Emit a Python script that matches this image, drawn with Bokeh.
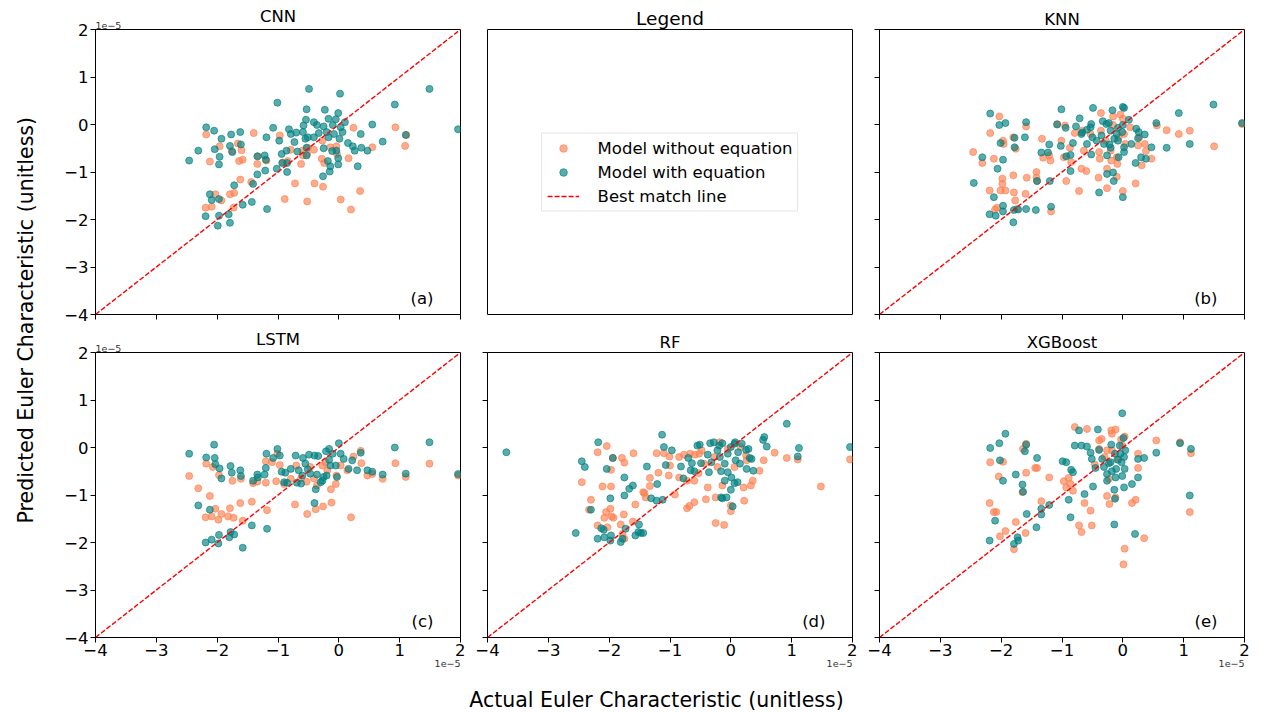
import math
from bokeh.plotting import figure
from bokeh.layouts import row, column
from bokeh.models import (Range1d, FixedTicker, CustomJSTickFormatter, Label,
                          Legend, LegendItem, Slope, Title)
from bokeh.embed import file_html
from bokeh.resources import INLINE

FONT = "DejaVu Sans"
ORANGE = "#FF7F50"
TEAL = "#008080"
TICKS = [-4, -3, -2, -1, 0, 1, 2]
SCALE_TEXT = "1e\u22125"          # values below are in units of 1e-5
LABEL_WITHOUT = "Model without equation"
LABEL_WITH = "Model with equation"
LABEL_LINE = "Best match line"
X_TITLE = "Actual Euler Characteristic (unitless)"
Y_TITLE = "Predicted Euler Characteristic (unitless)"

# ---------------- data: (actual, predicted) in units of 1e-5 ----------------
cnn_without = [(-2.18,-0.21),(-1.40,-0.18),(-0.97,-0.23),(0.24,-0.07),(0.93,-0.06),(1.11,-0.22),(1.09,-0.45),
    (-1.96,-0.46),(-1.66,-0.40),(-1.60,-0.54),(-1.76,-0.56),(-2.12,-0.78),(-1.64,-0.77),(-1.58,-0.74),
    (-1.34,-0.83),(-1.33,-0.67),(-1.19,-0.76),(-0.92,-0.80),(-0.84,-0.77),(-0.79,-0.53),(-0.62,-0.83),
    (-0.59,-0.65),(-0.52,-0.62),(-0.41,-0.53),(-0.60,-0.55),(-0.51,-0.49),(-0.28,-0.72),(-0.24,-0.81),
    (-0.04,-0.46),(0.16,-0.71),(0.55,-0.48),(-1.62,-1.16),(-1.44,-1.21),(-0.72,-1.24),(-0.40,-1.24),
    (-0.26,-1.31),(0.35,-1.40),(-1.79,-1.47),(-1.72,-1.44),(-2.03,-1.47),(-1.93,-1.60),(-2.19,-1.75),
    (-2.09,-1.73),(-1.73,-1.75),(-0.89,-1.57),(-0.52,-1.62),(0.03,-1.58),(0.20,-1.79),(-0.14,-0.48),
    (-0.27,-0.34),(-0.03,-0.62)]
cnn_with = [(-0.49,0.75),(0.02,0.65),(1.49,0.75),(-1.01,0.46),(0.92,0.42),(-0.53,0.32),(-0.23,0.31),(-0.01,0.24),
    (-0.54,0.10),(-0.41,0.05),(-0.17,0.12),(-0.05,0.11),(0.10,0.05),(0.55,0.00),(-2.18,-0.06),(-2.05,-0.13),
    (-0.82,-0.10),(-0.58,-0.02),(-0.36,-0.01),(-0.25,-0.04),(-0.10,-0.01),(0.03,-0.06),(1.96,-0.10),(-1.93,-0.30),
    (-1.77,-0.21),(-1.62,-0.16),(-1.19,-0.27),(-1.08,-0.07),(-0.98,-0.34),(-0.79,-0.20),(-0.70,-0.17),(-0.59,-0.16),
    (-0.51,-0.27),(-0.33,-0.18),(-0.20,-0.16),(-0.08,-0.20),(0.06,-0.16),(0.36,-0.20),(1.10,-0.22),(-2.31,-0.55),
    (-2.04,-0.52),(-1.79,-0.45),(-1.61,-0.42),(-1.75,-0.58),(-0.73,-0.37),(-0.55,-0.30),(-0.41,-0.27),(-0.17,-0.27),
    (0.01,-0.30),(0.15,-0.39),(0.23,-0.46),(0.26,-0.55),(0.37,-0.49),(0.47,-0.55),(0.72,-0.36),(-2.46,-0.76),
    (-1.96,-0.68),(-1.97,-0.84),(-1.34,-0.67),(-1.22,-0.65),(-1.20,-0.74),(-0.94,-0.62),(-0.86,-0.55),(-0.68,-0.57),
    (-0.53,-0.49),(-0.25,-0.50),(-0.11,-0.56),(-0.04,-0.55),(-0.93,-0.81),(-0.85,-0.81),(-0.53,-0.65),(-0.18,-0.77),
    (-0.14,-0.88),(-0.01,-0.71),(-0.01,-0.84),(0.31,-0.88),(-1.34,-1.05),(-1.21,-0.97),(-1.02,-0.93),(-0.85,-1.00),
    (-0.15,-0.99),(-0.26,-1.09),(-1.72,-1.28),(-1.41,-1.25),(-2.12,-1.47),(-2.09,-1.59),(-1.97,-1.57),(-1.58,-1.69),
    (-1.43,-1.63),(-1.18,-1.78),(-2.19,-1.93),(-1.97,-1.92),(-1.81,-1.89),(-1.99,-2.13),(-1.79,-2.07)]

knn_without = [(-2.03,0.17),(-2.18,-0.18),(-2.46,-0.58),(-2.31,-0.81),(-2.12,-0.72),(-1.97,-0.34),(-1.96,-0.41),
    (-1.80,-0.27),(-1.76,-0.51),(-1.59,-0.04),(-1.33,-0.30),(-1.31,-0.70),(-1.21,-0.65),(-1.19,-0.76),(-1.08,0.01),
    (-0.95,-0.02),(-1.01,-0.34),(-0.97,-0.69),(-0.87,-0.49),(-0.85,-0.79),(-0.79,-0.18),(-0.67,-0.13),(-0.53,-0.20),
    (-0.36,0.24),(-0.36,-0.13),(-0.38,-0.72),(-0.16,0.17),(-0.04,0.21),(0.00,0.12),(-0.16,-0.01),(-0.07,-0.28),
    (0.02,-0.20),(0.12,-0.06),(0.27,-0.27),(0.36,-0.41),(0.38,-0.56),(0.47,-0.72),(0.31,-0.86),(0.56,-0.02),
    (0.72,-0.12),(0.92,-0.20),(1.10,-0.13),(1.50,-0.46),(1.96,0.01),(-0.26,-0.93),(-0.10,-1.10),(-0.40,-1.12),
    (-0.26,-1.34),(0.00,-1.40),(0.21,-1.24),(-0.72,-1.40),(-0.68,-0.93),(-0.60,-0.98),(-0.93,-1.19),(-1.42,-1.00),
    (-1.42,-1.12),(-1.58,-1.12),(-1.41,-1.19),(-1.80,-1.07),(-1.98,-1.14),(-1.98,-1.25),(-2.01,-1.39),(-1.93,-1.39),
    (-2.19,-1.39),(-1.79,-1.43),(-1.77,-1.60),(-1.60,-1.46),(-2.07,-1.75),(-2.10,-1.79),(-1.74,-1.78),(-1.18,-1.83),
    (-0.20,-0.55),(-0.28,-0.34),(0.04,-0.41),(-0.09,-0.83),(-0.64,-0.55),(-0.39,-0.58),(0.25,-0.44),(-0.19,-0.76),
    (-0.10,-0.69)]
knn_with = [(-2.18,0.23),(-2.03,-0.01),(-1.93,0.03),(-1.59,0.05),(-1.01,0.32),(-0.71,0.13),(-0.49,0.35),(-0.52,0.01),
    (-0.33,0.07),(-0.23,0.03),(-0.17,0.30),(0.00,0.37),(0.02,0.35),(0.10,0.10),(0.55,0.03),(0.92,0.24),(1.49,0.42),
    (1.96,0.03),(-2.01,-0.39),(-1.78,-0.28),(-1.61,-0.27),(-1.78,-0.48),(-1.97,-0.74),(-2.31,-0.69),(-2.06,-0.93),
    (-2.45,-1.23),(-2.12,-1.53),(-2.19,-1.89),(-2.09,-1.92),(-1.97,-1.71),(-1.97,-1.83),(-1.79,-1.80),(-1.72,-1.79),
    (-1.59,-1.78),(-1.43,-1.80),(-1.18,-1.73),(-1.80,-2.06),(-1.34,-0.59),(-1.23,-0.59),(-1.21,-0.42),(-1.02,-0.45),
    (-0.94,-0.07),(-0.93,-0.67),(-0.86,-0.64),(-0.82,-0.39),(-0.77,-0.04),(-0.67,-0.17),(-0.59,-0.11),(-0.53,-0.06),
    (-0.50,-0.27),(-0.43,-0.34),(-0.35,-0.23),(-0.31,-0.41),(-0.20,-0.49),(-0.14,-0.30),(-0.10,-0.20),(-0.08,-0.34),
    (-0.07,-0.69),(-0.01,-0.16),(0.02,-0.48),(0.02,-0.58),(0.14,-0.41),(0.22,-0.09),(0.26,-0.16),(0.36,-0.21),
    (0.47,-0.48),(0.72,-0.49),(1.10,-0.41),(0.25,-0.29),(0.30,-0.69),(0.38,-0.72),(0.21,-0.81),(-0.86,-0.98),
    (-0.52,-0.63),(-0.26,-0.65),(-0.26,-1.04),(-0.16,-1.01),(-0.15,-1.19),(-0.39,-1.43),(0.00,-1.53),(0.00,-0.01),
    (-0.08,-0.07),(-0.27,0.01),(-0.22,-0.42),(-1.41,-1.19),(-1.20,-1.19),(-1.08,0.00),(-0.68,-0.20),(-0.59,-0.41),
    (-0.20,-0.13)]

lstm_without = [(-2.46,-0.60),(-2.31,-0.86),(-2.18,-0.34),(-2.07,-0.41),(-1.97,-0.58),(-1.75,-0.70),(-1.61,-0.66),
    (-2.12,-1.02),(-2.03,-1.29),(-1.79,-1.28),(-2.19,-1.47),(-2.09,-1.45),(-1.98,-1.52),(-1.93,-1.40),(-1.82,-1.45),
    (-1.73,-1.48),(-1.58,-1.54),(-1.62,-1.17),(-1.43,-1.14),(-1.18,-1.32),(-1.41,-0.75),(-1.34,-0.72),(-1.20,-0.74),
    (-1.20,-0.29),(-1.10,-0.31),(-1.01,-0.13),(-0.97,-0.37),(-1.03,-0.71),(-0.90,-0.77),(-0.79,-0.66),(-0.70,-0.38),
    (-0.62,-0.65),(-0.53,-0.72),(-0.41,-0.65),(-0.36,-0.80),(-0.27,-0.38),(-0.19,-0.48),(-0.13,-0.88),(-0.05,-0.77),
    (-0.04,-0.59),(0.03,-0.38),(0.14,-0.48),(0.24,-0.19),(0.36,-0.07),(0.37,-0.33),(0.47,-0.59),(0.55,-0.56),
    (0.72,-0.66),(0.93,-0.33),(1.10,-0.62),(1.49,-0.34),(1.96,-0.59),(-0.72,-1.20),(-0.52,-1.40),(-0.38,-1.30),
    (-0.26,-1.24),(-0.12,-1.16),(0.20,-1.47),(-0.47,-0.41),(-0.22,-0.31)]
lstm_with = [(-2.46,-0.13),(-2.05,0.06),(-2.18,-0.21),(-2.04,-0.22),(-2.03,-0.35),(-1.96,-0.44),(-1.93,-0.65),
    (-1.78,-0.39),(-1.76,-0.53),(-1.62,-0.48),(-1.61,-0.60),(-1.41,-0.70),(-1.34,-0.57),(-1.33,-0.63),(-1.22,-0.57),
    (-1.19,-0.13),(-1.20,-0.43),(-1.08,-0.22),(-1.01,-0.03),(-0.97,-0.17),(-0.94,-0.51),(-0.88,-0.53),(-0.85,-0.74),
    (-0.79,-0.45),(-0.71,-0.17),(-0.66,-0.48),(-0.62,-0.76),(-0.59,-0.22),(-0.55,-0.34),(-0.51,-0.46),(-0.49,-0.15),
    (-0.40,-0.17),(-0.34,-0.18),(-0.36,-0.57),(-0.30,-0.73),(-0.25,-0.62),(-0.21,-0.08),(-0.16,-0.03),(-0.16,-0.26),
    (-0.10,-0.13),(0.00,0.09),(0.03,-0.13),(-0.14,-0.38),(-0.05,-0.38),(-0.03,-0.62),(0.08,-0.24),(0.16,-0.45),
    (0.22,-0.27),(0.30,-0.48),(0.36,-0.11),(0.47,-0.48),(0.55,-0.51),(0.72,-0.57),(0.92,0.00),(1.10,-0.55),
    (1.49,0.11),(1.96,-0.56),(-2.31,-1.22),(-2.12,-1.31),(-0.38,-0.88),(-0.40,-1.17),(-2.19,-2.00),(-2.09,-1.94),
    (-1.97,-1.84),(-1.98,-2.02),(-1.80,-1.89),(-1.78,-1.78),(-1.72,-1.83),(-1.58,-2.11),(-1.43,-1.64),(-1.18,-1.71),
    (-0.90,-0.73),(-0.69,-0.74),(-0.60,-0.59),(-0.47,-0.55),(-0.20,-0.59),(-0.27,-0.70)]

rf_without = [(-2.19,-0.10),(-2.04,0.03),(-1.97,-0.47),(-1.94,-0.22),(-1.79,-0.22),(-1.75,-0.32),(-1.60,-0.12),
    (-2.45,-0.73),(-2.11,-0.82),(-1.97,-0.82),(-2.30,-1.10),(-2.33,-1.31),(-2.05,-1.36),(-2.08,-1.48),(-1.98,-1.29),
    (-1.96,-1.45),(-1.93,-1.48),(-1.76,-1.41),(-2.19,-1.64),(-2.03,-1.68),(-1.81,-1.62),(-1.61,-1.56),(-1.78,-1.82),
    (-1.75,-1.92),(-1.57,-1.20),(-1.42,-0.96),(-1.40,-1.05),(-1.44,-0.94),(-1.33,-0.64),(-1.33,-0.81),(-1.19,-0.53),
    (-1.22,-0.12),(-1.10,-0.12),(-1.01,-0.19),(-1.00,-0.38),(-1.02,-0.59),(-0.92,-0.99),(-0.85,-0.63),(-0.85,-0.20),
    (-0.77,-0.15),(-0.72,-0.70),(-0.67,-0.13),(-0.60,-0.70),(-0.59,-0.15),(-0.53,-0.54),(-0.52,-0.13),(-0.72,-1.28),
    (-0.68,-1.23),(-0.60,-1.15),(-0.41,-1.09),(-0.38,-0.84),(-0.25,-1.05),(-0.25,-1.59),(-0.11,-1.63),(-0.14,-0.80),
    (0.00,-1.22),(0.00,-1.34),(0.22,-1.12),(0.21,-0.84),(0.36,-0.70),(0.33,-0.80),(0.47,-0.49),(0.54,-0.27),
    (0.72,-0.11),(0.92,-0.22),(1.10,-0.25),(1.48,-0.82),(1.96,-0.25),(-0.18,0.11),(-0.27,-0.20),(-0.22,-0.41),
    (-0.05,-0.03),(0.26,-0.27),(-0.48,-0.06),(-0.44,-0.34),(0.06,-0.41),(0.16,0.01),(0.25,-0.17)]
rf_with = [(-3.69,-0.10),(-2.45,-0.29),(-2.40,-0.41),(-2.18,0.11),(-2.30,-1.31),(-2.55,-1.80),(-2.19,-1.92),
    (-2.08,-1.89),(-2.13,-1.70),(-2.09,-1.73),(-1.97,-1.85),(-1.98,-1.96),(-1.81,-1.99),(-1.78,-1.92),(-1.73,-1.71),
    (-1.57,-1.85),(-1.52,-1.78),(-1.48,-1.80),(-1.44,-1.80),(-1.51,-1.62),(-1.98,-1.07),(-1.75,-1.01),(-1.75,-0.63),
    (-1.67,-0.87),(-1.61,-0.80),(-2.04,-0.45),(-1.94,-0.22),(-1.38,-0.40),(-1.31,-1.07),(-1.22,-1.12),(-1.12,-1.10),
    (-1.21,-0.77),(-1.13,0.27),(-1.10,0.01),(-0.97,-0.06),(-1.07,-0.37),(-0.82,-0.40),(-0.78,-0.65),(-0.70,-0.22),
    (-0.64,-0.33),(-0.66,-0.48),(-0.60,-0.50),(-0.55,0.04),(-0.51,0.06),(-0.49,-0.33),(-0.38,-0.15),(-0.34,0.09),
    (-0.32,-0.31),(-0.28,0.11),(-0.22,-0.06),(-0.19,0.04),(-0.18,-0.20),(-0.14,0.09),(-0.10,-0.34),(-0.05,-0.13),
    (-0.05,-0.52),(0.00,0.01),(0.01,-0.63),(0.06,0.08),(0.07,0.11),(0.08,-0.27),(0.12,-0.10),(0.15,-0.34),
    (0.18,0.08),(0.25,-0.05),(0.26,-0.45),(0.31,-0.22),(0.34,-0.24),(0.37,-0.49),(0.29,-0.03),(0.53,0.16),
    (0.55,0.22),(0.59,0.02),(0.92,0.50),(1.12,-0.01),(1.10,-0.19),(1.96,0.01),(-0.16,-1.05),(-0.14,-1.07),
    (-0.07,-1.05),(0.00,-0.89),(0.03,-1.24),(-0.10,-0.70),(0.06,-0.75),(0.11,-0.73),(-0.36,-0.52),(-0.16,-0.50)]

xgb_without = [(-0.79,0.43),(-0.59,0.39),(-0.19,0.36),(-0.12,0.38),(-0.18,0.29),(0.03,0.23),(-0.35,0.18),(-0.39,0.15),
    (-0.18,-0.06),(-0.01,0.04),(0.55,0.15),(0.94,0.11),(1.12,-0.12),(0.25,-0.13),(0.25,-0.43),(-0.03,0.17),
    (-1.64,-0.03),(-1.59,0.08),(-2.18,-0.31),(-1.97,-0.30),(-1.59,-0.53),(-1.41,-0.43),(-1.44,-0.43),(-2.04,-0.61),
    (-1.21,-0.63),(-0.97,-0.71),(-0.89,-0.64),(-0.86,-0.77),(-0.93,-0.84),(-0.82,-0.91),(-1.65,-0.94),(-1.34,-1.13),
    (-2.19,-1.17),(-2.12,-1.36),(-2.08,-1.36),(-1.76,-1.57),(-1.93,-1.76),(-2.02,-1.87),(-1.79,-2.14),(-1.60,-1.80),
    (-0.63,-1.17),(-0.53,-1.33),(-0.72,-1.64),(-0.68,-1.78),(-0.51,-1.64),(-0.26,-1.02),(-0.22,-1.19),(-0.12,-1.05),
    (0.15,-1.17),(0.21,-1.10),(0.35,-1.91),(0.03,-2.13),(0.01,-2.46),(1.10,-1.36),(-0.46,-0.36),(-0.39,-0.03),
    (-0.26,-0.06),(-0.09,-0.24),(-0.23,-0.66),(-0.30,-0.20)]
xgb_with = [(-0.01,0.72),(-1.93,0.29),(-2.18,-0.01),(-2.03,0.09),(-1.59,0.06),(-1.61,-0.08),(-2.02,-0.27),
    (-1.97,-0.70),(-1.76,-0.57),(-1.65,-0.78),(-1.64,-0.93),(-1.41,-0.22),(-0.99,-0.29),(-0.93,-0.31),(-0.85,-0.47),
    (-0.82,-0.52),(-0.72,0.36),(-0.79,0.04),(-0.68,0.04),(-0.59,0.02),(-0.41,0.38),(-0.53,-0.11),(-0.51,-0.24),
    (-0.45,-0.43),(-0.39,-0.05),(-0.34,-0.24),(-0.31,-0.41),(-0.26,-0.56),(-0.26,-0.70),(-0.23,-0.33),(-0.19,0.06),
    (-0.13,-0.13),(-0.12,-0.63),(-0.11,-0.45),(-0.05,0.04),(-0.04,-0.13),(-0.02,-0.31),(0.01,0.20),(0.04,-0.06),
    (0.03,-0.45),(-0.01,-0.60),(0.02,-0.84),(-0.14,-0.89),(-0.13,-1.08),(0.15,-0.77),(0.25,-0.63),(0.25,-0.24),
    (0.35,-0.22),(0.55,-0.11),(0.94,0.09),(1.12,-0.03),(1.10,-1.01),(-0.49,-0.82),(-0.63,-0.98),(-0.89,-1.10),
    (-1.21,-1.21),(-1.34,-1.29),(-1.34,-1.41),(-1.58,-1.40),(-2.10,-1.54),(-2.19,-1.96),(-1.79,-2.03),(-1.73,-1.89),
    (-1.72,-1.96),(-1.42,-1.68),(-0.86,-1.47),(-0.14,-1.62),(0.20,-1.82),(-0.20,-0.31),(-0.08,-0.26),(0.02,-0.20),
    (-0.18,-0.50)]

PANELS = [
    ("CNN", cnn_without, cnn_with, "(a)"),
    ("KNN", knn_without, knn_with, "(b)"),
    ("LSTM", lstm_without, lstm_with, "(c)"),
    ("RF", rf_without, rf_with, "(d)"),
    ("XGBoost", xgb_without, xgb_with, "(e)"),
]

FRAME_W, FRAME_H = 365, 285
LEFT_BORDER = [47, 22, 22]
RIGHT_BORDER = [5, 5, 8]
TOP_BORDER = [29, 27]
BOTTOM_BORDER = [11, 40]
TOTAL_H = 712
YLAB_W = 48

tick_fmt = CustomJSTickFormatter(code="return tick < 0 ? '\\u2212' + Math.abs(tick) : String(tick);")


def small_title(align, vertical_align, standoff):
    return Title(text=SCALE_TEXT, align=align, vertical_align=vertical_align, standoff=standoff,
                 text_font=FONT, text_font_size="9.5px", text_font_style="normal",
                 text_color="#333333")


def base_fig(title, r, c, title_size="16.5px", title_standoff=2):
    p = figure(frame_width=FRAME_W, frame_height=FRAME_H,
               x_range=Range1d(-4, 2), y_range=Range1d(-4, 2),
               output_backend="svg", toolbar_location=None,
               min_border_left=LEFT_BORDER[c], min_border_right=RIGHT_BORDER[c],
               min_border_top=TOP_BORDER[r], min_border_bottom=BOTTOM_BORDER[r],
               background_fill_color="white", border_fill_color="white")
    p.title.text = title
    p.title.text_font = FONT
    p.title.text_font_size = title_size
    p.title.text_font_style = "normal"
    p.title.align = "center"
    p.title.standoff = title_standoff
    p.title.text_color = "black"
    p.grid.visible = False
    p.outline_line_color = "black"
    p.outline_line_width = 1
    p.outline_line_alpha = 1
    return p


def style_axis(ax, labelled):
    ax.axis_line_color = "black"
    ax.major_tick_line_color = "black"
    ax.minor_tick_line_color = "black"
    ax.major_tick_in = 0
    ax.minor_tick_in = 0
    if labelled:
        ax.ticker = FixedTicker(ticks=TICKS, minor_ticks=[])
        ax.formatter = tick_fmt
        ax.major_tick_out = 5
        ax.minor_tick_out = 0
        ax.major_label_text_font = FONT
        ax.major_label_text_font_size = "16.5px"
        ax.major_label_text_color = "black"
        ax.major_label_standoff = 2
    else:
        # shared axis: tick marks only, no labels
        ax.ticker = FixedTicker(ticks=[], minor_ticks=TICKS)
        ax.major_tick_out = 0
        ax.minor_tick_out = 5


def make_panel(title, wo, wi, tag, r, c):
    if c == 0:
        p = base_fig(title, r, c, title_standoff=-13)
        # y offset text, just above the top of the y axis
        p.add_layout(small_title("left", "bottom", 1), "above")
    else:
        p = base_fig(title, r, c)
    style_axis(p.xaxis[0], r == 1)
    style_axis(p.yaxis[0], c == 0)
    if r == 1:
        p.xaxis.major_label_standoff = 1
        # x offset text, below the right end of the x axis
        p.add_layout(small_title("right", "top", 2), "below")

    p.scatter([v[0] for v in wo], [v[1] for v in wo], size=7, marker="circle",
              fill_color=ORANGE, line_color=ORANGE, fill_alpha=0.65, line_alpha=0.65)
    p.scatter([v[0] for v in wi], [v[1] for v in wi], size=7, marker="circle",
              fill_color=TEAL, line_color=TEAL, fill_alpha=0.65, line_alpha=0.65)
    p.add_layout(Slope(gradient=1, y_intercept=0, line_color="red", line_width=1.4,
                       line_dash="5 2"))
    p.add_layout(Label(x=1.556, y=-3.87, text=tag, text_align="right", text_baseline="bottom",
                       text_font=FONT, text_font_size="16.5px", text_color="black"))
    return p


def make_legend_panel():
    p = base_fig("Legend", 0, 1, title_size="18.5px")
    p.x_range = Range1d(0, 1)
    p.y_range = Range1d(0, 1)
    p.axis.visible = False
    nan = [float("nan")]
    r1 = p.scatter(nan, nan, size=7, marker="circle", fill_color=ORANGE, line_color=ORANGE,
                   fill_alpha=0.65, line_alpha=0.65)
    r2 = p.scatter(nan, nan, size=7, marker="circle", fill_color=TEAL, line_color=TEAL,
                   fill_alpha=0.65, line_alpha=0.65)
    r3 = p.line(nan, nan, line_color="red", line_width=1.4, line_dash="5 2")
    leg = Legend(items=[LegendItem(label=LABEL_WITHOUT, renderers=[r1]),
                        LegendItem(label=LABEL_WITH, renderers=[r2]),
                        LegendItem(label=LABEL_LINE, renderers=[r3])],
                 location="center", orientation="vertical")
    leg.label_text_font = FONT
    leg.label_text_font_size = "16.5px"
    leg.label_text_color = "black"
    leg.glyph_width = 32
    leg.glyph_height = 19
    leg.label_height = 19
    leg.label_standoff = 19
    leg.spacing = 5
    leg.padding = 5
    leg.margin = 0
    leg.border_line_color = "#cccccc"
    leg.border_line_width = 1
    leg.background_fill_color = "white"
    leg.background_fill_alpha = 0.8
    p.add_layout(leg)
    return p


cnn = make_panel(*PANELS[0], 0, 0)
legp = make_legend_panel()
knn = make_panel(*PANELS[1], 0, 2)
lstm = make_panel(*PANELS[2], 1, 0)
rf = make_panel(*PANELS[3], 1, 1)
xgb = make_panel(*PANELS[4], 1, 2)


def text_fig(w, h):
    f = figure(width=w, height=h, x_range=Range1d(0, 1), y_range=Range1d(0, 1),
               output_backend="svg", toolbar_location=None, min_border=0,
               background_fill_color="white", border_fill_color="white")
    f.axis.visible = False
    f.grid.visible = False
    f.outline_line_color = None
    return f


rows_h = (TOP_BORDER[0] + FRAME_H + BOTTOM_BORDER[0]) + (TOP_BORDER[1] + FRAME_H + BOTTOM_BORDER[1])
xlab_h = TOTAL_H - rows_h
xlab_w = sum(LEFT_BORDER) + sum(RIGHT_BORDER) + 3 * FRAME_W

ylab = text_fig(YLAB_W, TOTAL_H)
ylab.add_layout(Label(x=0.54, y=0.551, text=Y_TITLE, angle=math.pi / 2,
                      text_align="center", text_baseline="middle",
                      text_font=FONT, text_font_size="20.5px", text_color="black"))
xlab = text_fig(xlab_w, xlab_h)
xlab.add_layout(Label(x=0.505, y=0.37, text=X_TITLE, text_align="center",
                      text_baseline="alphabetic", text_font=FONT,
                      text_font_size="20.5px", text_color="black"))

layout = row(ylab, column(row(cnn, legp, knn), row(lstm, rf, xgb), xlab))

open("out.html", "w").write(file_html(layout, INLINE))
